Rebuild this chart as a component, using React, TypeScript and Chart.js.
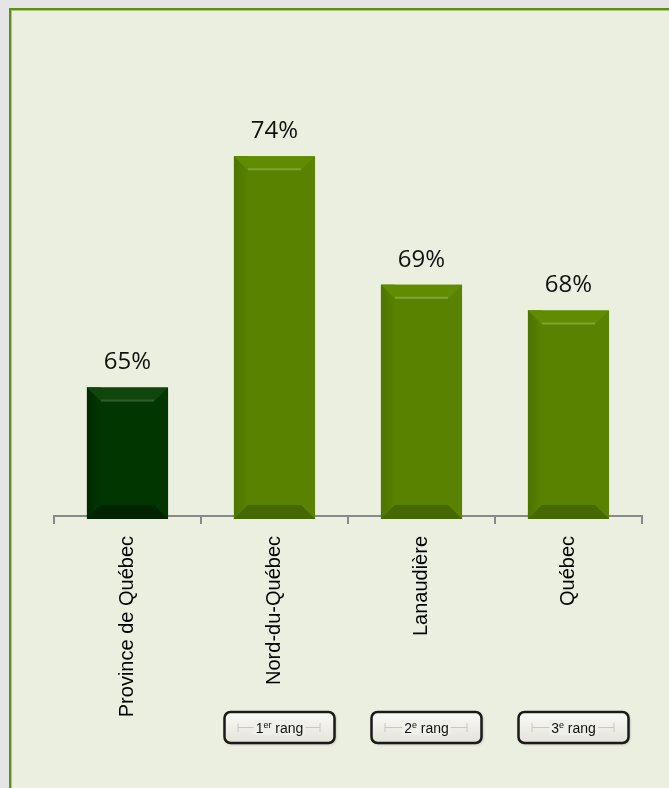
import React, { useEffect, useRef } from "react";
import { Chart, registerables } from "chart.js";

Chart.register(...registerables);

const categories = ["Province de Québec", "Nord-du-Québec", "Lanaudière", "Québec"];
const values = [65, 74, 69, 68];
const rankNumbers = ["", "1", "2", "3"];
const rankSuffixes = ["", "er", "e", "e"];
const barColors = ["#013601", "#588200", "#588200", "#588200"];
const bevelTop = ["#0e460e", "#5f8c00", "#5f8c00", "#5f8c00"];
const bevelHi = ["#2b5e2b", "#7ea433", "#7ea433", "#7ea433"];
const bevelBottom = ["#002300", "#456800", "#456800", "#456800"];
const bevelSide = ["#012a01", "#4c7400", "#4c7400", "#4c7400"];

const W = 669;
const H = 788;

const backgroundPlugin = {
  id: "bgPanel",
  beforeDraw(chart: any) {
    const ctx = chart.ctx;
    ctx.save();
    ctx.fillStyle = "#e5e5e5";
    ctx.fillRect(0, 0, W, H);
    ctx.fillStyle = "#ebefdf";
    ctx.fillRect(9, 8, W - 9, H - 8);
    ctx.fillStyle = "#5e8c1e";
    ctx.fillRect(9, 8, W - 9, 2);
    ctx.fillRect(9, 8, 2, H - 8);
    ctx.fillStyle = "#a9c97a";
    ctx.fillRect(11, 10, W - 11, 1);
    ctx.fillRect(11, 10, 1, H - 10);
    ctx.restore();
  },
};

const bevelPlugin = {
  id: "bevel",
  afterDatasetsDraw(chart: any) {
    const ctx = chart.ctx;
    const meta = chart.getDatasetMeta(0);
    meta.data.forEach((bar: any, i: number) => {
      const left = bar.x - bar.width / 2;
      const right = bar.x + bar.width / 2;
      const top = bar.y;
      const bottom = chart.chartArea.bottom + 3;
      const b = 14;
      ctx.save();
      ctx.fillStyle = barColors[i];
      ctx.fillRect(left, chart.chartArea.bottom - 1, right - left, 4);
      // left side shade
      const gl = ctx.createLinearGradient(left, 0, left + b, 0);
      gl.addColorStop(0, bevelSide[i]);
      gl.addColorStop(1, barColors[i]);
      ctx.fillStyle = gl;
      ctx.fillRect(left, top, b, bottom - top);
      // top bevel
      ctx.fillStyle = bevelTop[i];
      ctx.beginPath();
      ctx.moveTo(left, top);
      ctx.lineTo(right, top);
      ctx.lineTo(right - b, top + b);
      ctx.lineTo(left + b, top + b);
      ctx.closePath();
      ctx.fill();
      ctx.strokeStyle = bevelHi[i];
      ctx.lineWidth = 2;
      ctx.beginPath();
      ctx.moveTo(left + b, top + b - 1);
      ctx.lineTo(right - b, top + b - 1);
      ctx.stroke();
      // bottom bevel
      ctx.fillStyle = bevelBottom[i];
      ctx.beginPath();
      ctx.moveTo(left, bottom);
      ctx.lineTo(right, bottom);
      ctx.lineTo(right - b, bottom - b);
      ctx.lineTo(left + b, bottom - b);
      ctx.closePath();
      ctx.fill();
      // value label
      ctx.fillStyle = "#111111";
      ctx.font = "24px 'Open Sans'";
      ctx.textAlign = "center";
      ctx.textBaseline = "middle";
      ctx.fillText(values[i] + "%", bar.x, top - 25);
      ctx.restore();
    });
  },
  afterDraw(chart: any) {
    const ctx = chart.ctx;
    const xs = chart.scales.x;
    categories.forEach((_, i) => {
      if (!rankNumbers[i]) return;
      const cx = xs.getPixelForValue(i) + 5;
      const w = 110;
      const h = 31;
      const x = cx - w / 2;
      const y = 712;
      ctx.save();
      ctx.shadowColor = "rgba(0,0,0,0.35)";
      ctx.shadowBlur = 3;
      ctx.shadowOffsetX = 1;
      ctx.shadowOffsetY = 1;
      const g = ctx.createLinearGradient(0, y, 0, y + h);
      g.addColorStop(0, "#fbfbf6");
      g.addColorStop(1, "#e3e3da");
      ctx.fillStyle = g;
      ctx.beginPath();
      (ctx as any).roundRect(x, y, w, h, 6);
      ctx.fill();
      ctx.shadowColor = "transparent";
      ctx.lineWidth = 2.5;
      ctx.strokeStyle = "#1a1a1a";
      ctx.stroke();
      // inner decoration lines
      ctx.strokeStyle = "#c8c8c0";
      ctx.lineWidth = 1;
      ctx.beginPath();
      ctx.moveTo(x + 13.5, y + 11);
      ctx.lineTo(x + 13.5, y + 20);
      ctx.moveTo(x + w - 14.5, y + 11);
      ctx.lineTo(x + w - 14.5, y + 20);
      ctx.moveTo(x + 13.5, y + 15.5);
      ctx.lineTo(x + w - 14.5, y + 15.5);
      ctx.stroke();
      // text
      const num = rankNumbers[i];
      const rest = " rang";
      ctx.font = "14px 'Liberation Sans'";
      const wn = ctx.measureText(num).width;
      const wr = ctx.measureText(rest).width;
      ctx.font = "9px 'Liberation Sans'";
      const ws = ctx.measureText(rankSuffixes[i]).width;
      const total = wn + ws + wr;
      let tx = cx - total / 2;
      const ty = y + h / 2 + 5;
      ctx.fillStyle = "#f0f0ea";
      ctx.fillRect(tx - 2, y + 8, total + 4, 15);
      ctx.fillStyle = "#111111";
      ctx.textAlign = "left";
      ctx.textBaseline = "alphabetic";
      ctx.font = "14px 'Liberation Sans'";
      ctx.fillText(num, tx, ty);
      tx += wn;
      ctx.font = "9px 'Liberation Sans'";
      ctx.fillText(rankSuffixes[i], tx, ty - 5);
      tx += ws;
      ctx.font = "14px 'Liberation Sans'";
      ctx.fillText(rest, tx, ty);
      ctx.restore();
    });
  },
};

export default function App() {
  const ref = useRef<HTMLCanvasElement | null>(null);
  useEffect(() => {
    if (!ref.current) return;
    const chart = new Chart(ref.current, {
      type: "bar",
      data: {
        labels: categories,
        datasets: [
          {
            data: values,
            backgroundColor: barColors,
            borderWidth: 0,
            categoryPercentage: 1,
            barPercentage: 0.552,
          },
        ],
      },
      options: {
        animation: false,
        responsive: false,
        devicePixelRatio: 1,
        layout: { padding: { left: 54, right: 27, top: 2, bottom: 0 } },
        plugins: { legend: { display: false }, tooltip: { enabled: false } },
        scales: {
          y: { display: false, min: 60, max: 80 },
          x: {
            z: 1,
            afterFit(scale: any) {
              scale.height = 272;
            },
            border: { display: true, color: "#898989", width: 2 },
            grid: {
              offset: true,
              drawOnChartArea: false,
              drawTicks: true,
              tickLength: 8,
              color: "#898989",
              lineWidth: 2,
            },
            ticks: {
              autoSkip: false,
              minRotation: 90,
              maxRotation: 90,
              padding: 12,
              color: "#000000",
              font: { family: "'Liberation Sans'", size: 20 },
            },
          },
        },
      },
      plugins: [backgroundPlugin, bevelPlugin],
    });
    return () => chart.destroy();
  }, []);
  return (
    <div style={{ position: "fixed", left: 0, top: 0, width: W, height: H }}>
      <canvas ref={ref} width={W} height={H} style={{ display: "block", width: W, height: H }} />
    </div>
  );
}
